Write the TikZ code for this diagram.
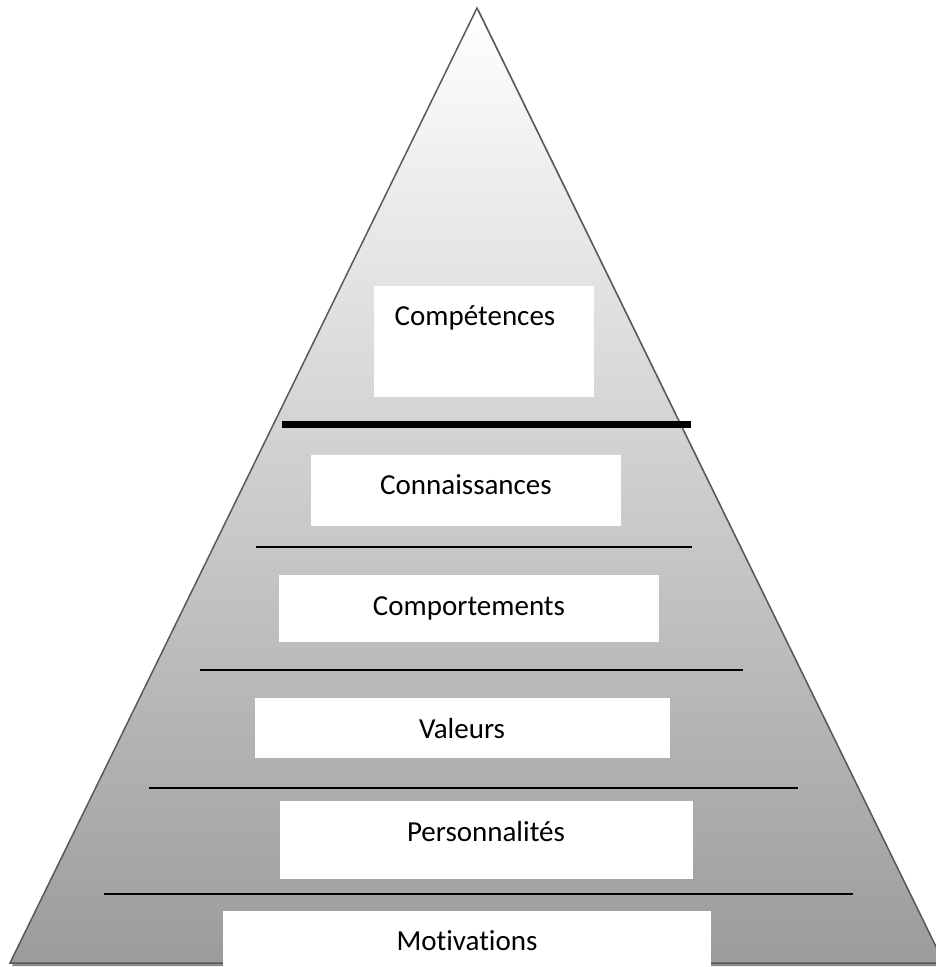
\documentclass[tikz,border=0pt]{standalone}
\usepackage{fontspec}
\setmainfont[Ligatures=NoCommon]{Carlito}
\begin{document}
\begin{tikzpicture}[x=1pt,y=-1pt]
  \tikzset{
    layer/.style={fill=white,draw=none},
    sep/.style={line width=2pt},
    word/.style={anchor=base,inner sep=0pt,font=\fontsize{29}{34}\selectfont},
  }
  \useasboundingbox (0,0) rectangle (936,967);
  \clip (0,0) rectangle (936,967);
  % pyramid and its shadow
  \fill[black!45] (479,10) -- (946,966) -- (12,966) -- cycle;
  \shade[top color=white, middle color=black!13, bottom color=black!39, draw=black!65, line width=1.5pt]
    (477,8) -- (944,963) -- (10,963) -- cycle;
  % white boxes
  \fill[layer] (374,286) rectangle (594,397);
  \fill[layer] (311,455) rectangle (621,526);
  \fill[layer] (279,575) rectangle (659,642);
  \fill[layer] (255,698) rectangle (670,758);
  \fill[layer] (280,801) rectangle (693,879);
  \fill[layer] (223,911) rectangle (711,970);
  % separating lines
  \draw[line width=7pt] (282,424) -- (691,424);
  \draw[sep] (256,547) -- (692,547);
  \draw[sep] (200,670) -- (743,670);
  \draw[sep] (149,788) -- (798,788);
  \draw[sep] (104,894) -- (853,894);
  % labels
  \node[word] (comp) at (475,325) {Compétences};
  \node[word] (conn) at (466,494) {Connaissances};
  \node[word] (compo) at (469,615) {Comportements};
  \node[word] (val) at (462,738) {Valeurs};
  \node[word] (pers) at (486,841) {Personnalités};
  \node[word] (motiv) at (467,950) {Motivations};
\end{tikzpicture}
\end{document}
